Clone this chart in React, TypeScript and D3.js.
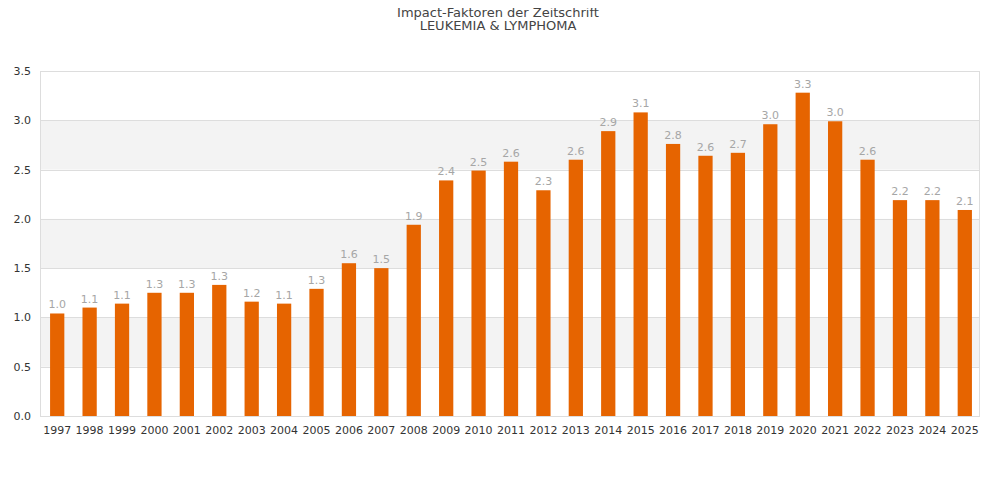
import { useEffect, useRef } from 'react'
import * as d3 from 'd3'

// * Chart data
const years = [
  '1997', '1998', '1999', '2000', '2001', '2002', '2003', '2004', '2005', '2006',
  '2007', '2008', '2009', '2010', '2011', '2012', '2013', '2014', '2015', '2016',
  '2017', '2018', '2019', '2020', '2021', '2022', '2023', '2024', '2025',
]
const impactFactors = [
  1.04, 1.1, 1.14, 1.25, 1.25, 1.33, 1.16, 1.14, 1.29, 1.55,
  1.5, 1.94, 2.39, 2.49, 2.58, 2.29, 2.6, 2.89, 3.08, 2.76,
  2.64, 2.67, 2.96, 3.28, 2.99, 2.6, 2.19, 2.19, 2.09,
]
const yTicks = [0, 0.5, 1.0, 1.5, 2.0, 2.5, 3.0, 3.5]
const titleLines = ['Impact-Faktoren der Zeitschrift', 'LEUKEMIA & LYMPHOMA']

export default function App() {
  const ref = useRef<SVGSVGElement | null>(null)

  useEffect(() => {
    const svg = d3.select(ref.current)
    svg.selectAll('*').remove()

    const margin = { top: 71, right: 20, bottom: 84, left: 40 }
    const svgWidth = 1000
    const svgHeight = 500
    const width = svgWidth - margin.left - margin.right
    const height = svgHeight - margin.top - margin.bottom
    const font = '"DejaVu Sans", sans-serif'

    // * Title
    svg
      .append('g')
      .selectAll('text')
      .data(titleLines)
      .enter()
      .append('text')
      .attr('x', 498)
      .attr('y', (d, i) => 17 + i * 13)
      .attr('text-anchor', 'middle')
      .attr('font-family', font)
      .attr('font-size', 13)
      .attr('fill', '#444')
      .text((d) => d)

    const chart = svg.append('g').attr('transform', `translate(${margin.left},${margin.top})`)

    // * Scales
    const xScale = d3.scaleBand().domain(years).range([1, width + 1]).paddingInner(0.56).paddingOuter(0.28)
    const yScale = d3.scaleLinear().domain([0, 3.5]).range([height, 0])

    // * Alternating grid bands
    const bands = yTicks.slice(0, -1).filter((d, i) => i % 2 === 1)
    chart
      .selectAll('.band')
      .data(bands)
      .enter()
      .append('rect')
      .attr('x', 0)
      .attr('width', width)
      .attr('y', (d) => yScale(d + 0.5))
      .attr('height', (d) => yScale(d) - yScale(d + 0.5))
      .attr('fill', '#f3f3f3')

    // * Grid lines
    chart
      .selectAll('.grid')
      .data(yTicks)
      .enter()
      .append('line')
      .attr('x1', 0)
      .attr('x2', width)
      .attr('y1', (d) => Math.round(yScale(d)) + 0.5)
      .attr('y2', (d) => Math.round(yScale(d)) + 0.5)
      .attr('stroke', '#dddddd')

    // * Frame
    chart
      .append('rect')
      .attr('x', 0.5)
      .attr('y', 0.5)
      .attr('width', width - 1)
      .attr('height', height)
      .attr('fill', 'none')
      .attr('stroke', '#dddddd')

    // * Y axis labels
    chart
      .selectAll('.ylabel')
      .data(yTicks)
      .enter()
      .append('text')
      .attr('x', -9)
      .attr('y', (d) => yScale(d) + 4)
      .attr('text-anchor', 'end')
      .attr('font-family', font)
      .attr('font-size', 11)
      .attr('fill', '#333')
      .text((d) => d.toFixed(1))

    // * X axis labels
    chart
      .selectAll('.xlabel')
      .data(years)
      .enter()
      .append('text')
      .attr('x', (d) => xScale(d)! + xScale.bandwidth() / 2)
      .attr('y', height + 18)
      .attr('text-anchor', 'middle')
      .attr('font-family', font)
      .attr('font-size', 11)
      .attr('fill', '#333')
      .text((d) => d)

    // * Bars
    chart
      .selectAll('.bar')
      .data(impactFactors)
      .enter()
      .append('rect')
      .attr('class', 'bar')
      .attr('x', (d, i) => xScale(years[i])!)
      .attr('y', (d) => yScale(d))
      .attr('width', xScale.bandwidth())
      .attr('height', (d) => yScale(0) - yScale(d))
      .attr('fill', '#e66400')

    // * Value labels
    chart
      .selectAll('.value')
      .data(impactFactors)
      .enter()
      .append('text')
      .attr('x', (d, i) => xScale(years[i])! + xScale.bandwidth() / 2)
      .attr('y', (d) => yScale(d) - 5)
      .attr('text-anchor', 'middle')
      .attr('font-family', font)
      .attr('font-size', 11)
      .attr('fill', '#a6a6a6')
      .text((d) => d.toFixed(1))
  }, [])

  return (
    <div style={{ margin: -8 }}>
      <svg width={1000} height={500} ref={ref} style={{ display: 'block' }} />
    </div>
  )
}
